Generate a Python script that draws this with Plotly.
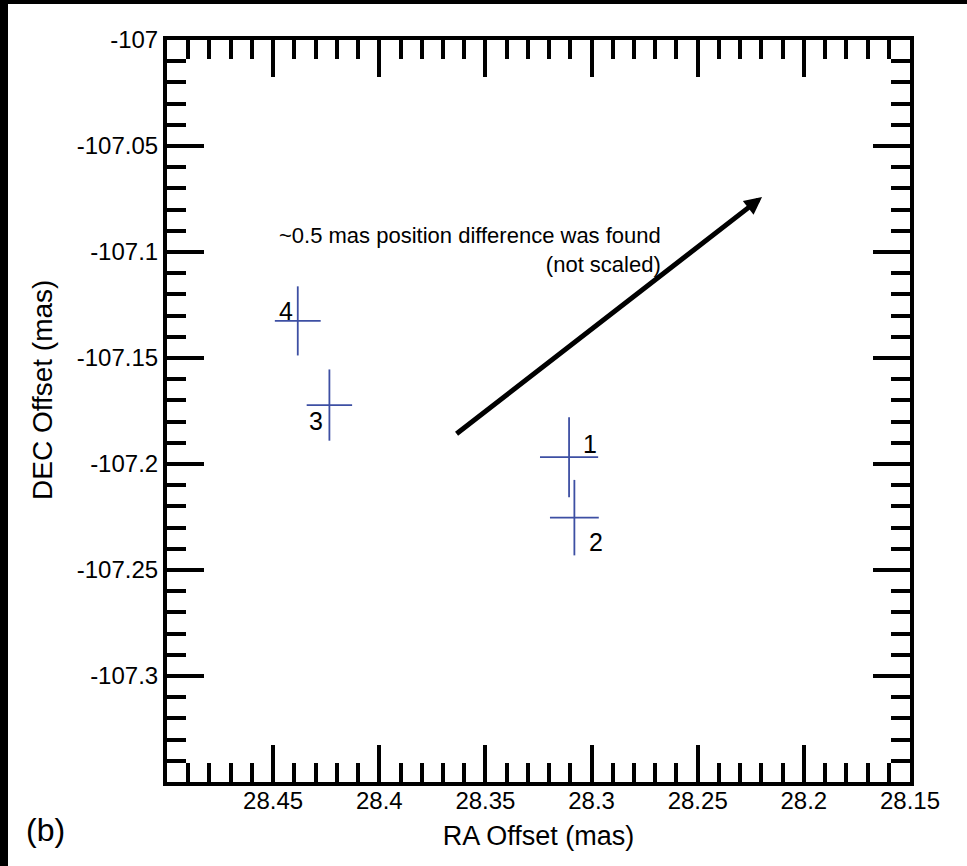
import plotly.graph_objects as go

# Data
labels = ["1", "2", "3", "4"]
ra = [28.3106, 28.3081, 28.4235, 28.4384]
dec = [-107.1968, -107.2253, -107.1722, -107.1325]
ra_err = [0.0137, 0.0115, 0.0107, 0.0108]
dec_err = [0.0189, 0.0178, 0.0168, 0.0163]
label_shift = {"1": (21, 13), "2": (22, -24), "3": (-13, -16), "4": (-12, 10)}

arrow_tail = (28.3643, -107.1863)
arrow_head = (28.2197, -107.0741)

x_range = [28.5, 28.15]
y_range = [-107.35, -107.0]
x_ticks = [28.45, 28.4, 28.35, 28.3, 28.25, 28.2, 28.15]
y_ticks = [-107.0, -107.05, -107.1, -107.15, -107.2, -107.25, -107.3]

font = "Liberation Sans, Arial, Helvetica, sans-serif"
cross_color = "#3d4fa3"

W, H = 967, 866
ML, MR, MT, MB = 167, 57, 40, 84
pw, ph = W - ML - MR, H - MT - MB


def px(xpix):
    return (xpix - ML) / pw


def py(ypix):
    return (H - MB - ypix) / ph


fig = go.Figure()
fig.add_trace(go.Scatter(
    x=ra, y=dec, mode="markers",
    marker=dict(size=1, color=cross_color, opacity=0),
    error_x=dict(type="data", array=ra_err, width=0, thickness=1.8, color=cross_color),
    error_y=dict(type="data", array=dec_err, width=0, thickness=1.8, color=cross_color),
    showlegend=False, hoverinfo="skip",
))

for lab, xv, yv in zip(labels, ra, dec):
    dx, dy = label_shift[lab]
    fig.add_annotation(x=xv, y=yv, text=lab, showarrow=False, xshift=dx, yshift=dy,
                       font=dict(family=font, size=25, color="black"))

fig.add_annotation(x=arrow_head[0], y=arrow_head[1], ax=arrow_tail[0], ay=arrow_tail[1],
                   xref="x", yref="y", axref="x", ayref="y", text="", showarrow=True,
                   arrowhead=2, arrowsize=0.7, arrowwidth=5, arrowcolor="black")

fig.add_annotation(x=28.2663, y=-107.099, xref="x", yref="y", xanchor="right", yanchor="middle",
                   text="~0.5 mas position difference was found<br>(not scaled)", align="right",
                   showarrow=False, font=dict(family=font, size=22, color="black"))

fig.add_annotation(x=px(46), y=py(830), xref="paper", yref="paper", xanchor="center", yanchor="middle",
                   text="(b)", showarrow=False,
                   font=dict(family=font, size=32, color="black"))

# y axis title (placed as in the reference, slightly above the plot centre)
fig.add_annotation(x=px(42), y=py(390), xref="paper", yref="paper", xanchor="center", yanchor="middle",
                   text="DEC Offset (mas)", textangle=-90, showarrow=False,
                   font=dict(family=font, size=28, color="black"))

axis_common = dict(
    showgrid=False, zeroline=False, showline=True, linecolor="black", linewidth=4,
    mirror="allticks", ticks="inside", ticklen=37, tickwidth=4, tickcolor="black",
    tickfont=dict(family=font, size=24, color="black"),
    minor=dict(ticks="inside", ticklen=19, tickwidth=4, tickcolor="black", dtick=0.01, showgrid=False),
)

fig.update_xaxes(range=x_range, tickvals=x_ticks, ticktext=[f"{v:g}" for v in x_ticks],
                 ticklabelstandoff=-6,
                 title=dict(text="RA Offset (mas)", font=dict(family=font, size=27, color="black"), standoff=14),
                 **axis_common)
fig.update_yaxes(range=y_range, tickvals=y_ticks, ticktext=[f"{v:g}" for v in y_ticks],
                 **axis_common)

fig.update_layout(
    width=W, height=H,
    margin=dict(l=ML, r=MR, t=MT, b=MB, autoexpand=False),
    paper_bgcolor="white", plot_bgcolor="white",
)

# black frame strips on the left and top edges
fig.add_shape(type="rect", xref="paper", yref="paper",
              x0=px(0), x1=px(8), y0=py(H), y1=py(0),
              fillcolor="black", line=dict(width=0), layer="above")
fig.add_shape(type="rect", xref="paper", yref="paper",
              x0=px(0), x1=px(W), y0=py(4), y1=py(0),
              fillcolor="black", line=dict(width=0), layer="above")

fig.write_html("out.html")
